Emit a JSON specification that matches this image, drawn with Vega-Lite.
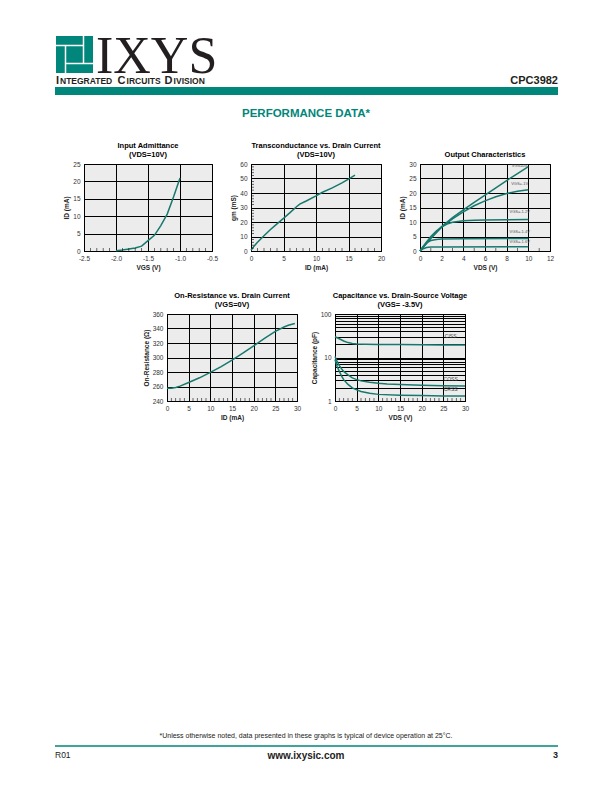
{
  "$schema": "https://vega.github.io/schema/vega-lite/v6.json",
  "padding": 0,
  "spacing": 19,
  "config": {
    "font": "Liberation Sans",
    "view": {"stroke": null},
    "axis": {"labelFont": "Liberation Sans", "labelFontSize": 6.5, "labelColor": "#333", "titleFont": "Liberation Sans", "titleFontSize": 6.5, "titleFontWeight": "bold", "titleColor": "#222", "domainColor": "black", "domainWidth": 1, "tickColor": "black", "tickSize": 0, "labelPadding": 4, "grid": true, "gridColor": "black", "gridOpacity": 1, "gridWidth": 1, "titlePadding": 3, "labelFlush": false, "labelOverlap": false, "labelBound": false},
    "tick": {"color": "black"},
    "title": {"font": "Liberation Sans", "fontSize": 7.5, "fontWeight": "bold", "color": "black", "subtitleFont": "Liberation Sans", "subtitleFontSize": 7.5, "subtitleFontWeight": "bold", "subtitleColor": "black", "offset": 3, "subtitlePadding": 1, "anchor": "middle", "frame": "group"}
  },
  "vconcat": [
    {
      "width": 612, "height": 122,
      "view": {"stroke": null, "fill": null},
      "layer": [
        {
          "data": {"values": [
            {"part": "logo", "x": 56, "x2": 93, "y": 36, "y2": 73},
            {"part": "bar", "x": 55, "x2": 558, "y": 87, "y2": 95}
          ]},
          "mark": {"type": "rect", "color": "#00867a"},
          "encoding": {
            "x": {"field": "x", "type": "quantitative", "scale": {"domain": [0, 612], "nice": false}, "axis": null},
            "x2": {"field": "x2"},
            "y": {"field": "y", "type": "quantitative", "scale": {"domain": [0, 122], "nice": false, "reverse": true}, "axis": null},
            "y2": {"field": "y2"}
          }
        },
        {
          "data": {"values": [
            {"x": 56, "x2": 83.5, "y": 45.5, "y2": 45.5},
            {"x": 83.5, "x2": 83.5, "y": 36, "y2": 63.5},
            {"x": 65.5, "x2": 93, "y": 63.5, "y2": 63.5},
            {"x": 65.5, "x2": 65.5, "y": 45.5, "y2": 73}
          ]},
          "mark": {"type": "rule", "color": "white", "strokeWidth": 1.5},
          "encoding": {
            "x": {"field": "x", "type": "quantitative", "scale": {"domain": [0, 612], "nice": false}, "axis": null},
            "x2": {"field": "x2"},
            "y": {"field": "y", "type": "quantitative", "scale": {"domain": [0, 122], "nice": false, "reverse": true}, "axis": null},
            "y2": {"field": "y2"}
          }
        },
        {
          "data": {"values": [{"t": "IXYS", "x": 96, "y": 73}]},
          "mark": {"type": "text", "font": "Liberation Serif", "fontSize": 52, "align": "left", "baseline": "alphabetic", "color": "#231f20"},
          "encoding": {
            "x": {"field": "x", "type": "quantitative", "scale": {"domain": [0, 612], "nice": false}, "axis": null},
            "y": {"field": "y", "type": "quantitative", "scale": {"domain": [0, 122], "nice": false, "reverse": true}, "axis": null},
            "text": {"field": "t"}
          }
        },
        {
          "data": {"values": [
            {"t": "I", "x": 56, "y": 84},
            {"t": "C", "x": 117.5, "y": 84},
            {"t": "D", "x": 164.5, "y": 84}
          ]},
          "mark": {"type": "text", "fontSize": 11, "fontWeight": "bold", "align": "left", "baseline": "alphabetic", "color": "#231f20"},
          "encoding": {
            "x": {"field": "x", "type": "quantitative", "scale": {"domain": [0, 612], "nice": false}, "axis": null},
            "y": {"field": "y", "type": "quantitative", "scale": {"domain": [0, 122], "nice": false, "reverse": true}, "axis": null},
            "text": {"field": "t"}
          }
        },
        {
          "data": {"values": [
            {"t": "NTEGRATED", "x": 60, "y": 84},
            {"t": "IRCUITS", "x": 126.6, "y": 84},
            {"t": "IVISION", "x": 173.6, "y": 84}
          ]},
          "mark": {"type": "text", "fontSize": 8.5, "fontWeight": "bold", "align": "left", "baseline": "alphabetic", "color": "#231f20"},
          "encoding": {
            "x": {"field": "x", "type": "quantitative", "scale": {"domain": [0, 612], "nice": false}, "axis": null},
            "y": {"field": "y", "type": "quantitative", "scale": {"domain": [0, 122], "nice": false, "reverse": true}, "axis": null},
            "text": {"field": "t"}
          }
        },
        {
          "data": {"values": [{"t": "CPC3982", "x": 558, "y": 84}]},
          "mark": {"type": "text", "fontSize": 11, "fontWeight": "bold", "align": "right", "baseline": "alphabetic", "color": "#231f20"},
          "encoding": {
            "x": {"field": "x", "type": "quantitative", "scale": {"domain": [0, 612], "nice": false}, "axis": null},
            "y": {"field": "y", "type": "quantitative", "scale": {"domain": [0, 122], "nice": false, "reverse": true}, "axis": null},
            "text": {"field": "t"}
          }
        },
        {
          "data": {"values": [{"t": "PERFORMANCE DATA*", "x": 306, "y": 117}]},
          "mark": {"type": "text", "fontSize": 11.5, "fontWeight": "bold", "align": "center", "baseline": "alphabetic", "color": "#00867a"},
          "encoding": {
            "x": {"field": "x", "type": "quantitative", "scale": {"domain": [0, 612], "nice": false}, "axis": null},
            "y": {"field": "y", "type": "quantitative", "scale": {"domain": [0, 122], "nice": false, "reverse": true}, "axis": null},
            "text": {"field": "t"}
          }
        }
      ]
    },
    {
      "hconcat": [
        {"width": 45, "height": 10, "data": {"values": [{}]}, "mark": {"type": "point", "opacity": 0}},
        {
          "width": 128, "height": 87,
          "view": {"fill": "#ececec", "stroke": "black", "strokeWidth": 1},
          "title": {"text": "Input Admittance", "subtitle": "(VDS=10V)"},
          "resolve": {"axis": {"x": "independent", "y": "independent"}},
          "layer": [
            {
              "data": {"values": [
                {"vgs": -2.0, "id": 0.1}, {"vgs": -1.9, "id": 0.3}, {"vgs": -1.8, "id": 0.55}, {"vgs": -1.7, "id": 0.85},
                {"vgs": -1.6, "id": 1.4}, {"vgs": -1.5, "id": 3.0}, {"vgs": -1.4, "id": 4.5}, {"vgs": -1.3, "id": 7.3},
                {"vgs": -1.2, "id": 10.6}, {"vgs": -1.1, "id": 15.6}, {"vgs": -1.0, "id": 21.0}
              ]},
              "mark": {"type": "line", "color": "#17796d", "strokeWidth": 1.5},
              "encoding": {
                "x": {"field": "vgs", "type": "quantitative", "scale": {"domain": [-2.5, -0.5], "nice": false},
                  "axis": {"title": "VGS (V)", "labelOverlap": false, "values": [-2.5, -2.0, -1.5, -1.0, -0.5],
                    "labelExpr": "(datum.value < 0 ? '-' : '') + format(abs(datum.value), '.1f')"}},
                "y": {"field": "id", "type": "quantitative", "scale": {"domain": [0, 25], "nice": false},
                  "axis": {"title": "ID (mA)", "labelOverlap": false, "values": [0, 5, 10, 15, 20, 25]}}
              }
            },
            {
              "data": {"values": [{"v": -2.4}, {"v": -2.3}, {"v": -2.2}, {"v": -2.1}, {"v": -1.9}, {"v": -1.8}, {"v": -1.7}, {"v": -1.6}, {"v": -1.4}, {"v": -1.3}, {"v": -1.2}, {"v": -1.1}, {"v": -0.9}, {"v": -0.8}, {"v": -0.7}, {"v": -0.6}]},
              "mark": {"type": "tick", "orient": "vertical", "size": 3, "thickness": 0.8, "yOffset": -1.5},
              "encoding": {
                "x": {"field": "v", "type": "quantitative", "scale": {"domain": [-2.5, -0.5], "nice": false}, "axis": null},
                "y": {"datum": 0, "type": "quantitative", "scale": {"domain": [0, 25], "nice": false}, "axis": null}
              }
            }
          ]
        },
        {
          "width": 130, "height": 87,
          "view": {"fill": "#ececec", "stroke": "black", "strokeWidth": 1},
          "title": {"text": "Transconductance vs. Drain Current", "subtitle": "(VDS=10V)"},
          "resolve": {"axis": {"x": "independent", "y": "independent"}},
          "layer": [
            {
              "data": {"values": [
                {"id": 0, "gm": 0.5}, {"id": 0.5, "gm": 3.5}, {"id": 1, "gm": 6}, {"id": 2, "gm": 10.5}, {"id": 3, "gm": 14.8},
                {"id": 4, "gm": 18.7}, {"id": 5, "gm": 22.5}, {"id": 6, "gm": 26.5}, {"id": 7, "gm": 30.5}, {"id": 7.5, "gm": 32.3},
                {"id": 8.5, "gm": 34.5}, {"id": 10, "gm": 38}, {"id": 11, "gm": 40.5}, {"id": 12.5, "gm": 43.5}, {"id": 14, "gm": 47},
                {"id": 15, "gm": 49.5}, {"id": 16, "gm": 52.3}
              ]},
              "mark": {"type": "line", "color": "#17796d", "strokeWidth": 1.5},
              "encoding": {
                "x": {"field": "id", "type": "quantitative", "scale": {"domain": [0, 20], "nice": false},
                  "axis": {"title": "ID (mA)", "labelOverlap": false, "values": [0, 5, 10, 15, 20]}},
                "y": {"field": "gm", "type": "quantitative", "scale": {"domain": [0, 60], "nice": false},
                  "axis": {"title": "gm (mS)", "labelOverlap": false, "values": [0, 10, 20, 30, 40, 50, 60]}}
              }
            },
            {
              "data": {"values": [{"v": 1}, {"v": 2}, {"v": 3}, {"v": 4}, {"v": 6}, {"v": 7}, {"v": 8}, {"v": 9}, {"v": 11}, {"v": 12}, {"v": 13}, {"v": 14}, {"v": 16}, {"v": 17}, {"v": 18}, {"v": 19}]},
              "mark": {"type": "tick", "orient": "vertical", "size": 3, "thickness": 0.8, "yOffset": -1.5},
              "encoding": {
                "x": {"field": "v", "type": "quantitative", "scale": {"domain": [0, 20], "nice": false}, "axis": null},
                "y": {"datum": 0, "type": "quantitative", "scale": {"domain": [0, 60], "nice": false}, "axis": null}
              }
            },
            {
              "data": {"values": [{"v": 2}, {"v": 4}, {"v": 6}, {"v": 8}, {"v": 12}, {"v": 14}, {"v": 16}, {"v": 18}, {"v": 22}, {"v": 24}, {"v": 26}, {"v": 28}, {"v": 32}, {"v": 34}, {"v": 36}, {"v": 38}, {"v": 42}, {"v": 44}, {"v": 46}, {"v": 48}, {"v": 52}, {"v": 54}, {"v": 56}, {"v": 58}]},
              "mark": {"type": "tick", "orient": "horizontal", "size": 3, "thickness": 0.8, "xOffset": 1.5},
              "encoding": {
                "y": {"field": "v", "type": "quantitative", "scale": {"domain": [0, 60], "nice": false}, "axis": null},
                "x": {"datum": 0, "type": "quantitative", "scale": {"domain": [0, 20], "nice": false}, "axis": null}
              }
            }
          ]
        },
        {
          "width": 130, "height": 87,
          "view": {"fill": "#ececec", "stroke": "black", "strokeWidth": 1},
          "title": {"text": "Output Characteristics"},
          "resolve": {"axis": {"x": "independent", "y": "independent"}},
          "layer": [
            {
              "data": {"values": [
                {"s": "0", "vds": 0, "id": 0}, {"s": "0", "vds": 1, "id": 4.4}, {"s": "0", "vds": 2, "id": 8.4}, {"s": "0", "vds": 3, "id": 11.5},
                {"s": "0", "vds": 4, "id": 14.2}, {"s": "0", "vds": 5, "id": 16.8}, {"s": "0", "vds": 6, "id": 19.3}, {"s": "0", "vds": 7, "id": 21.8},
                {"s": "0", "vds": 8, "id": 24.3}, {"s": "0", "vds": 9, "id": 26.7}, {"s": "0", "vds": 10, "id": 29.1},
                {"s": "-1", "vds": 0, "id": 0}, {"s": "-1", "vds": 1, "id": 4.4}, {"s": "-1", "vds": 2, "id": 8.2}, {"s": "-1", "vds": 3, "id": 11.1},
                {"s": "-1", "vds": 4, "id": 13.5}, {"s": "-1", "vds": 5, "id": 15.6}, {"s": "-1", "vds": 6, "id": 17.3}, {"s": "-1", "vds": 7, "id": 18.7},
                {"s": "-1", "vds": 8, "id": 19.8}, {"s": "-1", "vds": 9, "id": 20.6}, {"s": "-1", "vds": 10, "id": 21.1},
                {"s": "-1.2", "vds": 0, "id": 0}, {"s": "-1.2", "vds": 0.5, "id": 2.6}, {"s": "-1.2", "vds": 1, "id": 5}, {"s": "-1.2", "vds": 1.5, "id": 6.9},
                {"s": "-1.2", "vds": 2, "id": 8.3}, {"s": "-1.2", "vds": 2.5, "id": 9.3}, {"s": "-1.2", "vds": 3, "id": 9.9}, {"s": "-1.2", "vds": 3.5, "id": 10.2},
                {"s": "-1.2", "vds": 4, "id": 10.4}, {"s": "-1.2", "vds": 5, "id": 10.6}, {"s": "-1.2", "vds": 6, "id": 10.7}, {"s": "-1.2", "vds": 8, "id": 10.8},
                {"s": "-1.2", "vds": 10, "id": 10.9},
                {"s": "-1.4", "vds": 0, "id": 0}, {"s": "-1.4", "vds": 0.3, "id": 1.6}, {"s": "-1.4", "vds": 0.6, "id": 2.8}, {"s": "-1.4", "vds": 1, "id": 3.6},
                {"s": "-1.4", "vds": 1.5, "id": 4.0}, {"s": "-1.4", "vds": 2, "id": 4.1}, {"s": "-1.4", "vds": 4, "id": 4.2}, {"s": "-1.4", "vds": 10, "id": 4.3},
                {"s": "-1.6", "vds": 0, "id": 0}, {"s": "-1.6", "vds": 0.3, "id": 0.8}, {"s": "-1.6", "vds": 0.6, "id": 1.2}, {"s": "-1.6", "vds": 1, "id": 1.35},
                {"s": "-1.6", "vds": 2, "id": 1.4}, {"s": "-1.6", "vds": 10, "id": 1.5}
              ]},
              "mark": {"type": "line", "color": "#17796d", "strokeWidth": 1.5},
              "encoding": {
                "detail": {"field": "s"},
                "x": {"field": "vds", "type": "quantitative", "scale": {"domain": [0, 12], "nice": false},
                  "axis": {"title": "VDS (V)", "labelOverlap": false, "values": [0, 2, 4, 6, 8, 10, 12]}},
                "y": {"field": "id", "type": "quantitative", "scale": {"domain": [0, 30], "nice": false},
                  "axis": {"title": "ID (mA)", "labelOverlap": false, "values": [0, 5, 10, 15, 20, 25, 30]}}
              }
            },
            {
              "data": {"values": [{"v": 1}, {"v": 3}, {"v": 5}, {"v": 7}, {"v": 9}, {"v": 11}]},
              "mark": {"type": "tick", "orient": "vertical", "size": 3, "thickness": 0.8, "yOffset": -1.5},
              "encoding": {
                "x": {"field": "v", "type": "quantitative", "scale": {"domain": [0, 12], "nice": false}, "axis": null},
                "y": {"datum": 0, "type": "quantitative", "scale": {"domain": [0, 30], "nice": false}, "axis": null}
              }
            },
            {
              "data": {"values": [
                {"t": "VGS=0V", "vds": 9.2, "id": 29.3},
                {"t": "VGS=-1V", "vds": 9.2, "id": 23.1},
                {"t": "VGS=-1.2V", "vds": 9.2, "id": 13.6},
                {"t": "VGS=-1.4V", "vds": 9.2, "id": 6.6},
                {"t": "VGS=-1.6V", "vds": 9.2, "id": 3.2}
              ]},
              "mark": {"type": "text", "fontSize": 4, "color": "#555", "align": "center", "baseline": "middle"},
              "encoding": {
                "x": {"field": "vds", "type": "quantitative", "scale": {"domain": [0, 12], "nice": false}, "axis": null},
                "y": {"field": "id", "type": "quantitative", "scale": {"domain": [0, 30], "nice": false}, "axis": null},
                "text": {"field": "t"}
              }
            }
          ]
        }
      ],
      "spacing": 39,
      "bounds": "flush"
    },
    {
      "hconcat": [
        {"width": 129, "height": 10, "data": {"values": [{}]}, "mark": {"type": "point", "opacity": 0}},
        {
          "width": 130, "height": 87,
          "view": {"fill": "#ececec", "stroke": "black", "strokeWidth": 1},
          "title": {"text": "On-Resistance vs. Drain Current", "subtitle": "(VGS=0V)"},
          "resolve": {"axis": {"x": "independent", "y": "independent"}},
          "layer": [
            {
              "data": {"values": [
                {"id": 0, "r": 257.5}, {"id": 1, "r": 257.6}, {"id": 2, "r": 258.6}, {"id": 3, "r": 260.5}, {"id": 5, "r": 265.5},
                {"id": 7.5, "r": 272}, {"id": 10, "r": 279.5}, {"id": 12.5, "r": 287.5}, {"id": 15, "r": 296.5}, {"id": 17.5, "r": 306},
                {"id": 20, "r": 316}, {"id": 22.5, "r": 326.5}, {"id": 25, "r": 336}, {"id": 27, "r": 342}, {"id": 28, "r": 344.5}, {"id": 29.5, "r": 347}
              ]},
              "mark": {"type": "line", "color": "#17796d", "strokeWidth": 1.5},
              "encoding": {
                "x": {"field": "id", "type": "quantitative", "scale": {"domain": [0, 30], "nice": false},
                  "axis": {"title": "ID (mA)", "labelOverlap": false, "values": [0, 5, 10, 15, 20, 25, 30]}},
                "y": {"field": "r", "type": "quantitative", "scale": {"domain": [240, 360], "nice": false, "zero": false},
                  "axis": {"title": "On-Resistance (Ω)", "labelOverlap": false, "values": [240, 260, 280, 300, 320, 340, 360]}}
              }
            },
            {
              "data": {"values": [{"v": 1}, {"v": 2}, {"v": 3}, {"v": 4}, {"v": 6}, {"v": 7}, {"v": 8}, {"v": 9}, {"v": 11}, {"v": 12}, {"v": 13}, {"v": 14}, {"v": 16}, {"v": 17}, {"v": 18}, {"v": 19}, {"v": 21}, {"v": 22}, {"v": 23}, {"v": 24}, {"v": 26}, {"v": 27}, {"v": 28}, {"v": 29}]},
              "mark": {"type": "tick", "orient": "vertical", "size": 3, "thickness": 0.8, "yOffset": -1.5},
              "encoding": {
                "x": {"field": "v", "type": "quantitative", "scale": {"domain": [0, 30], "nice": false}, "axis": null},
                "y": {"datum": 240, "type": "quantitative", "scale": {"domain": [240, 360], "nice": false, "zero": false}, "axis": null}
              }
            }
          ]
        },
        {
          "width": 130, "height": 87,
          "view": {"fill": "#ececec", "stroke": "black", "strokeWidth": 1},
          "title": {"text": "Capacitance vs. Drain-Source Voltage", "subtitle": "(VGS= -3.5V)"},
          "resolve": {"axis": {"x": "independent", "y": "independent"}},
          "layer": [
            {
              "data": {"values": [
                {"s": "Ciss", "vds": 0, "c": 30}, {"s": "Ciss", "vds": 1, "c": 27}, {"s": "Ciss", "vds": 2, "c": 24}, {"s": "Ciss", "vds": 3, "c": 22},
                {"s": "Ciss", "vds": 4, "c": 21}, {"s": "Ciss", "vds": 5, "c": 20.5}, {"s": "Ciss", "vds": 7, "c": 20.2}, {"s": "Ciss", "vds": 10, "c": 20},
                {"s": "Ciss", "vds": 15, "c": 19.8}, {"s": "Ciss", "vds": 20, "c": 19.6}, {"s": "Ciss", "vds": 25, "c": 19.4}, {"s": "Ciss", "vds": 30, "c": 19.3},
                {"s": "Coss", "vds": 0, "c": 10.5}, {"s": "Coss", "vds": 0.5, "c": 8}, {"s": "Coss", "vds": 1, "c": 6.5}, {"s": "Coss", "vds": 1.5, "c": 5.5},
                {"s": "Coss", "vds": 2, "c": 4.8}, {"s": "Coss", "vds": 3, "c": 4}, {"s": "Coss", "vds": 4, "c": 3.4}, {"s": "Coss", "vds": 5, "c": 3.1},
                {"s": "Coss", "vds": 6, "c": 2.9}, {"s": "Coss", "vds": 8, "c": 2.7}, {"s": "Coss", "vds": 10, "c": 2.55}, {"s": "Coss", "vds": 12, "c": 2.45},
                {"s": "Coss", "vds": 15, "c": 2.4}, {"s": "Coss", "vds": 20, "c": 2.3}, {"s": "Coss", "vds": 25, "c": 2.25}, {"s": "Coss", "vds": 30, "c": 2.2},
                {"s": "Crss", "vds": 0, "c": 9}, {"s": "Crss", "vds": 0.5, "c": 6.2}, {"s": "Crss", "vds": 1, "c": 4.8}, {"s": "Crss", "vds": 1.5, "c": 3.8},
                {"s": "Crss", "vds": 2, "c": 3.1}, {"s": "Crss", "vds": 3, "c": 2.4}, {"s": "Crss", "vds": 4, "c": 2}, {"s": "Crss", "vds": 5, "c": 1.8},
                {"s": "Crss", "vds": 6, "c": 1.65}, {"s": "Crss", "vds": 8, "c": 1.5}, {"s": "Crss", "vds": 10, "c": 1.42}, {"s": "Crss", "vds": 15, "c": 1.36},
                {"s": "Crss", "vds": 20, "c": 1.33}, {"s": "Crss", "vds": 25, "c": 1.3}, {"s": "Crss", "vds": 30, "c": 1.3}
              ]},
              "mark": {"type": "line", "color": "#17796d", "strokeWidth": 1.5},
              "encoding": {
                "detail": {"field": "s"},
                "x": {"field": "vds", "type": "quantitative", "scale": {"domain": [0, 30], "nice": false},
                  "axis": {"title": "VDS (V)", "labelOverlap": false, "values": [0, 5, 10, 15, 20, 25, 30]}},
                "y": {"field": "c", "type": "quantitative", "scale": {"type": "log", "domain": [1, 100], "nice": false},
                  "axis": {"title": "Capacitance (pF)", "labelOverlap": false, "values": [1, 2, 3, 4, 5, 6, 7, 8, 9, 10, 20, 30, 40, 50, 60, 70, 80, 90, 100],
                    "labelExpr": "datum.value == 1 || datum.value == 10 || datum.value == 100 ? format(datum.value, 'd') : ''"}}
              }
            },
            {
              "data": {"values": [{"v": 1}, {"v": 2}, {"v": 3}, {"v": 4}, {"v": 6}, {"v": 7}, {"v": 8}, {"v": 9}, {"v": 11}, {"v": 12}, {"v": 13}, {"v": 14}, {"v": 16}, {"v": 17}, {"v": 18}, {"v": 19}, {"v": 21}, {"v": 22}, {"v": 23}, {"v": 24}, {"v": 26}, {"v": 27}, {"v": 28}, {"v": 29}]},
              "mark": {"type": "tick", "orient": "vertical", "size": 3, "thickness": 0.8, "yOffset": -1.5},
              "encoding": {
                "x": {"field": "v", "type": "quantitative", "scale": {"domain": [0, 30], "nice": false}, "axis": null},
                "y": {"datum": 1, "type": "quantitative", "scale": {"type": "log", "domain": [1, 100], "nice": false}, "axis": null}
              }
            },
            {
              "data": {"values": [
                {"t": "CISS", "vds": 26.7, "c": 31},
                {"t": "COSS", "vds": 26.7, "c": 3.2},
                {"t": "CRSS", "vds": 26.7, "c": 1.85}
              ]},
              "mark": {"type": "text", "fontSize": 5, "color": "#444", "align": "center", "baseline": "middle"},
              "encoding": {
                "x": {"field": "vds", "type": "quantitative", "scale": {"domain": [0, 30], "nice": false}, "axis": null},
                "y": {"field": "c", "type": "quantitative", "scale": {"type": "log", "domain": [1, 100], "nice": false}, "axis": null},
                "text": {"field": "t"}
              }
            }
          ]
        }
      ],
      "spacing": 38,
      "bounds": "flush"
    },
    {
      "width": 612, "height": 353,
      "view": {"stroke": null, "fill": null},
      "layer": [
        {
          "data": {"values": [{"x": 55, "x2": 558, "y": 744, "y2": 744}]},
          "mark": {"type": "rule", "color": "#00867a", "strokeWidth": 1.5},
          "encoding": {
            "x": {"field": "x", "type": "quantitative", "scale": {"domain": [0, 612], "nice": false}, "axis": null},
            "x2": {"field": "x2"},
            "y": {"field": "y", "type": "quantitative", "scale": {"domain": [439, 792], "nice": false, "zero": false, "reverse": true}, "axis": null},
            "y2": {"field": "y2"}
          }
        },
        {
          "data": {"values": [{"t": "*Unless otherwise noted, data presented in these graphs is typical of device operation at 25°C.", "x": 306, "y": 736}]},
          "mark": {"type": "text", "fontSize": 7, "align": "center", "baseline": "alphabetic", "color": "#222"},
          "encoding": {
            "x": {"field": "x", "type": "quantitative", "scale": {"domain": [0, 612], "nice": false}, "axis": null},
            "y": {"field": "y", "type": "quantitative", "scale": {"domain": [439, 792], "nice": false, "zero": false, "reverse": true}, "axis": null},
            "text": {"field": "t"}
          }
        },
        {
          "data": {"values": [{"t": "R01", "x": 55, "y": 756}]},
          "mark": {"type": "text", "fontSize": 8.5, "align": "left", "baseline": "alphabetic", "color": "#222"},
          "encoding": {
            "x": {"field": "x", "type": "quantitative", "scale": {"domain": [0, 612], "nice": false}, "axis": null},
            "y": {"field": "y", "type": "quantitative", "scale": {"domain": [439, 792], "nice": false, "zero": false, "reverse": true}, "axis": null},
            "text": {"field": "t"}
          }
        },
        {
          "data": {"values": [{"t": "www.ixysic.com", "x": 306, "y": 756.5}]},
          "mark": {"type": "text", "fontSize": 10, "fontWeight": "bold", "align": "center", "baseline": "alphabetic", "color": "#222"},
          "encoding": {
            "x": {"field": "x", "type": "quantitative", "scale": {"domain": [0, 612], "nice": false}, "axis": null},
            "y": {"field": "y", "type": "quantitative", "scale": {"domain": [439, 792], "nice": false, "zero": false, "reverse": true}, "axis": null},
            "text": {"field": "t"}
          }
        },
        {
          "data": {"values": [{"t": "3", "x": 558, "y": 756}]},
          "mark": {"type": "text", "fontSize": 9, "fontWeight": "bold", "align": "right", "baseline": "alphabetic", "color": "#222"},
          "encoding": {
            "x": {"field": "x", "type": "quantitative", "scale": {"domain": [0, 612], "nice": false}, "axis": null},
            "y": {"field": "y", "type": "quantitative", "scale": {"domain": [439, 792], "nice": false, "zero": false, "reverse": true}, "axis": null},
            "text": {"field": "t"}
          }
        }
      ]
    }
  ]
}
